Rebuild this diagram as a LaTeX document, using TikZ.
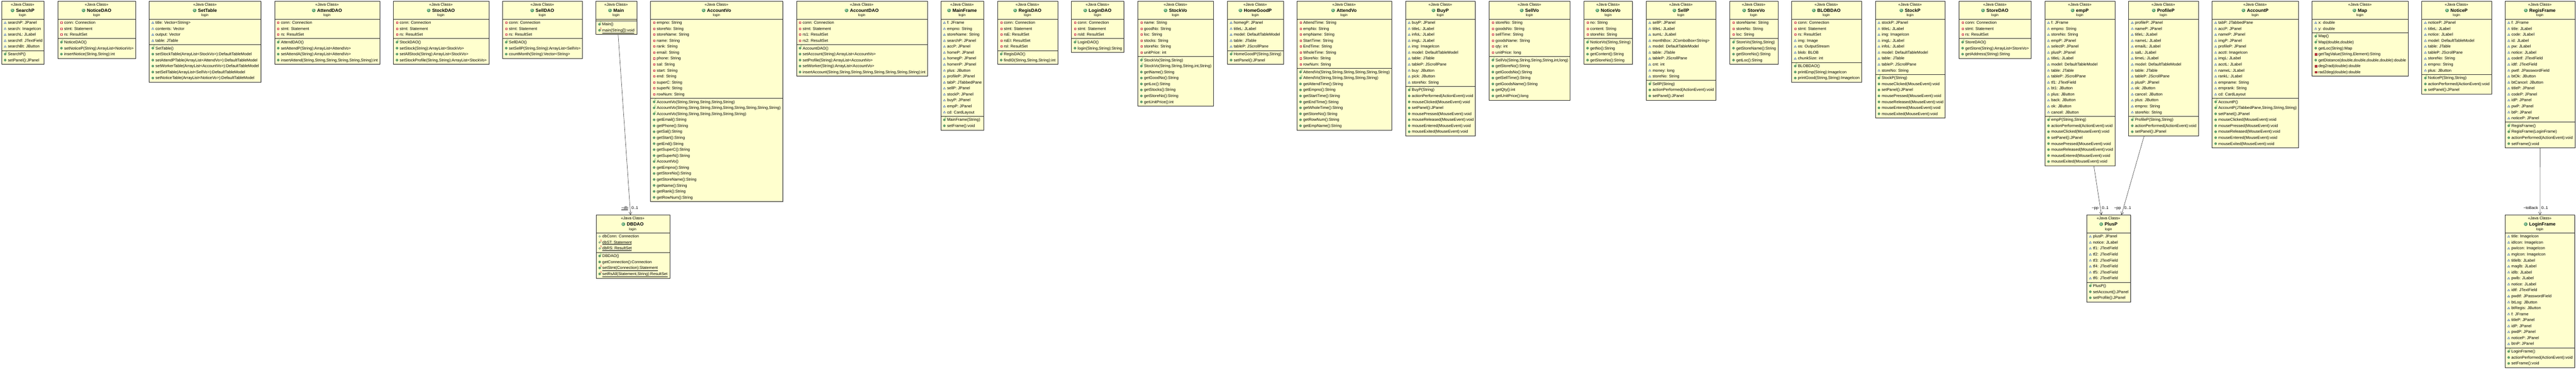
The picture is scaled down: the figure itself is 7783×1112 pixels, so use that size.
\documentclass[tikz,border=0pt]{standalone}
\usepackage{fontspec}
\setmainfont{Liberation Sans}
\usetikzlibrary{calc,arrows.meta}

\definecolor{classfill}{RGB}{255,255,206}
\definecolor{classline}{RGB}{40,40,40}
\definecolor{pkgblue}{RGB}{58,104,170}
\definecolor{privred}{RGB}{206,52,64}
\definecolor{pubgreen}{RGB}{98,168,118}
\definecolor{pubrim}{RGB}{60,120,80}
\definecolor{ctorgreen}{RGB}{30,150,50}
\definecolor{headgreen}{RGB}{76,156,100}

\newcount\rowno
% one class box: name, x, top, width, attributes, operations
\newcommand\umlclass[6]{%
  \def\itm##1##2{\global\advance\rowno by 1 }%
  \global\rowno=0 #5\xdef\nattr{\the\rowno}%
  \global\rowno=0 #6\xdef\nmeth{\the\rowno}%
  \pgfmathsetmacro\ysa{#3+54}%
  \pgfmathsetmacro\ysb{\ysa+18*\nattr+5}%
  \pgfmathsetmacro\ysc{\ysb+18*\nmeth+5}%
  \pgfmathsetmacro\hh{\ysc-#3}%
  \fill[boxshadow] (#2+2,-#3-2) rectangle (#2+#4+2,-\ysc-2);
  \node[classbox,minimum width=#4pt,minimum height=\hh pt,anchor=north west] (#1) at (#2,-#3) {};
  \draw[sepline] (#2,-\ysa) -- (#2+#4,-\ysa);
  \draw[sepline] (#2,-\ysb) -- (#2+#4,-\ysb);
  \node[stereo] (#1-s) at (#2+#4/2,-#3-14.4) {<<Java Class>>};
  \node[cname] (#1-n) at (#2+#4/2+7.75,-#3-32.4) {#1};
  \fill[headgreen] ([shift={(-10.25,4.6)}]#1-n.base west) circle (5.5);
  \node[cicon] (#1-i) at ([shift={(-10.25,4.6)}]#1-n.base west) {C};
  \node[pkg] (#1-p) at (#2+#4/2,-#3-46.3) {login};
  \def\itm##1##2{%
    \global\advance\rowno by 1
    \pgfmathsetmacro\yy{\ytop+15+18*(\the\rowno-1)}%
    \node[item] (#1-\sect\the\rowno) at (#2+19.5,-\yy) {##2};
    \pic at (#2+11.5,-\yy+4.2) {ic##1};}%
  \let\ytop\ysa\def\sect{a}\global\rowno=0 #5%
  \let\ytop\ysb\def\sect{m}\global\rowno=0 #6%
}
% association with role and multiplicity
\newcommand\assoc[5]{%
  \coordinate (#1-#3-a) at ([xshift=#2pt]#1.south);
  \coordinate (#1-#3-b) at ([xshift=#4pt]#3.north);
  \draw[assoc] (#1-#3-a) -- (#1-#3-b);
  \node[role,anchor=base east] (#1-#3-r) at ($(#1-#3-b)!17pt!(#1-#3-a)+(-6,0)$) {#5};
  \node[role,anchor=base west] (#1-#3-m) at ($(#1-#3-b)!17pt!(#1-#3-a)+(4,0)$) {0..1};
}
\newcommand\connrs{\itm{p}{conn: Connection}\itm{p}{stmt: Statement}\itm{p}{rs: ResultSet}}
\newcommand\mouserest{\itm{m}{mousePressed(MouseEvent):void}\itm{m}{mouseReleased(MouseEvent):void}%
  \itm{m}{mouseEntered(MouseEvent):void}\itm{m}{mouseExited(MouseEvent):void}}

\begin{document}
\begin{tikzpicture}[x=1pt,y=1pt,
  classbox/.style={draw=classline,fill=classfill,line width=1.1pt,inner sep=0pt},
  boxshadow/.style={fill=black!15},
  sepline/.style={draw=classline,line width=1.1pt},
  stereo/.style={inner sep=0pt,anchor=base,font=\fontsize{11.8}{13}\selectfont},
  cname/.style={inner sep=0pt,anchor=base,font=\bfseries\fontsize{13.9}{16}\selectfont},
  cicon/.style={inner sep=0pt,text=white,font=\bfseries\fontsize{8.5}{9}\selectfont},
  pkg/.style={inner sep=0pt,anchor=base,font=\fontsize{10.2}{12}\selectfont},
  item/.style={inner sep=0pt,anchor=base west,font=\fontsize{12}{14}\selectfont},
  role/.style={inner sep=0pt,font=\fontsize{12}{14}\selectfont},
  sup/.style={inner sep=0pt,font=\fontsize{8}{8}\selectfont},
  assoc/.style={draw=black!80,line width=0.9pt,-{Straight Barb[length=8pt,width=9pt]}},
  pics/ict/.style={code={\draw[draw=pkgblue,fill=pkgblue!15,line width=0.8pt] (-3.3,-2.7) -- (3.3,-2.7) -- (0,3) -- cycle;}},
  pics/icp/.style={code={\draw[draw=privred,fill=privred!10,line width=0.8pt] (-2.4,-2.4) rectangle (2.4,2.4);}},
  pics/ico/.style={code={\draw[draw=pubrim,fill=white,line width=0.9pt] (0,0) circle (2.6);}},
  pics/icm/.style={code={\draw[draw=pubrim,fill=pubgreen,line width=0.5pt] (0,0) circle (3.4);}},
  pics/icx/.style={code={\draw[draw=privred!70!black,fill=privred,line width=0.5pt] (-3,-3) rectangle (3,3);}},
  pics/icc/.style={code={\draw[draw=pubrim,fill=pubgreen,line width=0.5pt] (0,0) circle (3.4);
      \node[sup,text=ctorgreen] at (4,5) {C};}},
  pics/icsm/.style={code={\draw[draw=pubrim,fill=pubgreen,line width=0.5pt] (0,0) circle (3.4);
      \node[sup,text=privred] at (4,5) {S};}},
  pics/icso/.style={code={\draw[draw=pubrim,fill=white,line width=0.9pt] (0,0) circle (2.6);
      \node[sup,text=privred] at (4,5) {S};}}]
\useasboundingbox (0,0) rectangle (7783,-1112);

\umlclass{SearchP}{4.1}{3.5}{128.5}{\itm{t}{searchP: JPanel}\itm{t}{search: ImageIcon}\itm{t}{searchL: JLabel}
  \itm{t}{searchtf: JTextField}\itm{t}{searchBt: JButton}}{\itm{c}{SearchP()}\itm{m}{setPanel():JPanel}}
\umlclass{NoticeDAO}{174.1}{3.5}{235.5}{\connrs}{\itm{c}{NoticeDAO()}
  \itm{m}{setNoticeP(String):ArrayList<NoticeVo>}\itm{m}{insertNotice(String,String):int}}
\umlclass{SetTable}{450.2}{3.5}{338}{\itm{t}{title: Vector<String>}\itm{t}{contents: Vector}\itm{t}{output: Vector}
  \itm{t}{table: JTable}}{\itm{c}{SetTable()}\itm{m}{setStockTable(ArrayList<StockVo>):DefaultTableModel}
  \itm{m}{setAttendPTable(ArrayList<AttendVo>):DefaultTableModel}\itm{m}{setWorkerTable(ArrayList<AccountVo>):DefaultTableModel}
  \itm{m}{setSellTable(ArrayList<SellVo>):DefaultTableModel}\itm{m}{setNoticeTable(ArrayList<NoticeVo>):DefaultTableModel}}
\umlclass{AttendDAO}{829.1}{3.5}{318}{\connrs}{\itm{c}{AttendDAO()}\itm{m}{setAttendP(String):ArrayList<AttendVo>}
  \itm{m}{setAttendA(String):ArrayList<AttendVo>}\itm{m}{insertAttend(String,String,String,String,String,String):int}}
\umlclass{StockDAO}{1188}{3.5}{288.5}{\connrs}{\itm{c}{StockDAO()}\itm{m}{setStock(String):ArrayList<StockVo>}
  \itm{m}{setAllStock(String):ArrayList<StockVo>}\itm{m}{setStockProfile(String,String):ArrayList<StockVo>}}
\umlclass{SellDAO}{1518}{3.5}{241}{\connrs}{\itm{c}{SellDAO()}\itm{m}{setSellP(String,String):ArrayList<SellVo>}
  \itm{m}{countMonth(String):Vector<String>}}
\umlclass{Main}{1799.8}{3.5}{123.5}{}{\itm{c}{Main()}\itm{sm}{\underline{main(String[]):void}}}
\umlclass{AccountVo}{1964.8}{3.5}{400}{\itm{p}{empno: String}\itm{p}{storeNo: String}\itm{p}{storeName: String}
  \itm{p}{name: String}\itm{p}{rank: String}\itm{p}{email: String}\itm{p}{phone: String}\itm{p}{sal: String}
  \itm{p}{start: String}\itm{p}{end: String}\itm{p}{superC: String}\itm{p}{superN: String}\itm{p}{rowNum: String}}
  {\itm{c}{AccountVo(String,String,String,String,String)}
  \itm{c}{AccountVo(String,String,String,String,String,String,String,String,String)}
  \itm{c}{AccountVo(String,String,String,String,String,String)}\itm{m}{getEmail():String}\itm{m}{getPhone():String}
  \itm{m}{getSal():String}\itm{m}{getStart():String}\itm{m}{getEnd():String}\itm{m}{getSuperC():String}
  \itm{m}{getSuperN():String}\itm{c}{AccountVo()}\itm{m}{getEmpno():String}\itm{m}{getStoreNo():String}
  \itm{m}{getStoreName():String}\itm{m}{getName():String}\itm{m}{getRank():String}\itm{m}{getRowNum():String}}
\umlclass{AccountDAO}{2405.7}{3.5}{396}{\itm{p}{conn: Connection}\itm{p}{stmt: Statement}\itm{p}{rs1: ResultSet}
  \itm{p}{rs2: ResultSet}}{\itm{c}{AccountDAO()}\itm{m}{setAccount(String):ArrayList<AccountVo>}
  \itm{m}{setProfile(String):ArrayList<AccountVo>}\itm{m}{setWorker(String):ArrayList<AccountVo>}
  \itm{m}{insertAccount(String,String,String,String,String,String,String,String):int}}
\umlclass{MainFrame}{2841.8}{3.5}{130}{\itm{t}{f: JFrame}\itm{t}{empno: String}\itm{t}{storeName: String}
  \itm{t}{searchP: JPanel}\itm{t}{accP: JPanel}\itm{t}{homeP: JPanel}\itm{t}{homegP: JPanel}\itm{t}{homenP: JPanel}
  \itm{t}{plus: JButton}\itm{t}{profileP: JPanel}\itm{t}{tabP: JTabbedPane}\itm{t}{sellP: JPanel}\itm{t}{stockP: JPanel}
  \itm{t}{buyP: JPanel}\itm{t}{empP: JPanel}\itm{t}{cd: CardLayout}}{\itm{c}{MainFrame(String)}\itm{m}{setFrame():void}}
\umlclass{RegisDAO}{3013.4}{3.5}{181.6}{\itm{p}{conn: Connection}\itm{p}{stmt: Statement}\itm{p}{rsE: ResultSet}
  \itm{p}{rsEI: ResultSet}\itm{p}{rsI: ResultSet}}{\itm{c}{RegisDAO()}\itm{m}{findID(String,String,String):int}}
\umlclass{LoginDAO}{3236.4}{3.5}{159}{\itm{p}{conn: Connection}\itm{p}{stmt: Statement}\itm{p}{rsId: ResultSet}}
  {\itm{c}{LoginDAO()}\itm{m}{login(String,String):String}}
\umlclass{StockVo}{3437}{3.5}{229}{\itm{p}{name: String}\itm{p}{goodNo: String}\itm{p}{loc: String}
  \itm{p}{stocks: String}\itm{p}{storeNo: String}\itm{p}{unitPrice: int}}{\itm{c}{StockVo(String,String)}
  \itm{c}{StockVo(String,String,String,int,String)}\itm{m}{getName():String}\itm{m}{getGoodNo():String}
  \itm{m}{getLoc():String}\itm{m}{getStocks():String}\itm{m}{getStoreNo():String}\itm{m}{getUnitPrice():int}}
\umlclass{HomeGoodP}{3708}{3.5}{169}{\itm{t}{homegP: JPanel}\itm{t}{titleL: JLabel}\itm{t}{model: DefaultTableModel}
  \itm{t}{table: JTable}\itm{t}{tableP: JScrollPane}}{\itm{c}{HomeGoodP(String,String)}\itm{m}{setPanel():JPanel}}
\umlclass{AttendVo}{3917.8}{3.5}{286}{\itm{p}{AttendTime: String}\itm{p}{empNo: String}\itm{p}{empName: String}
  \itm{p}{StartTime: String}\itm{p}{EndTime: String}\itm{p}{WholeTime: String}\itm{p}{StoreNo: String}\itm{p}{rowNum: String}}
  {\itm{c}{AttendVo(String,String,String,String,String,String)}\itm{c}{AttendVo(String,String,String,String,String)}
  \itm{m}{getAttendTime():String}\itm{m}{getEmpno():String}\itm{m}{getStartTime():String}\itm{m}{getEndTime():String}
  \itm{m}{getWholeTime():String}\itm{m}{getStoreNo():String}\itm{m}{getRowNum():String}\itm{m}{getEmpName():String}}
\umlclass{BuyP}{4246.1}{3.5}{211}{\itm{t}{buyP: JPanel}\itm{t}{titleL: JLabel}\itm{t}{infoL: JLabel}\itm{t}{imgL: JLabel}
  \itm{t}{img: ImageIcon}\itm{t}{model: DefaultTableModel}\itm{t}{table: JTable}\itm{t}{tableP: JScrollPane}
  \itm{t}{buy: JButton}\itm{t}{pick: JButton}\itm{t}{storeNo: String}}{\itm{c}{BuyP(String)}
  \itm{m}{actionPerformed(ActionEvent):void}\itm{m}{mouseClicked(MouseEvent):void}\itm{m}{setPanel():JPanel}\mouserest}
\umlclass{SellVo}{4499}{3.5}{244}{\itm{p}{storeNo: String}\itm{p}{goodsNo: String}\itm{p}{sellTime: String}
  \itm{p}{goodsName: String}\itm{p}{qty: int}\itm{p}{unitPrice: long}}{\itm{c}{SellVo(String,String,String,String,int,long)}
  \itm{m}{getStoreNo():String}\itm{m}{getGoodsNo():String}\itm{m}{getSellTime():String}\itm{m}{getGoodsName():String}
  \itm{m}{getQty():int}\itm{m}{getUnitPrice():long}}
\umlclass{NoticeVo}{4785}{3.5}{147}{\itm{p}{no: String}\itm{p}{content: String}\itm{p}{storeNo: String}}
  {\itm{c}{NoticeVo(String,String)}\itm{m}{getNo():String}\itm{m}{getContent():String}\itm{m}{getStoreNo():String}}
\umlclass{SellP}{4973.1}{3.5}{211}{\itm{t}{sellP: JPanel}\itm{t}{titleL: JLabel}\itm{t}{sumL: JLabel}
  \itm{t}{monthBox: JComboBox<String>}\itm{t}{model: DefaultTableModel}\itm{t}{table: JTable}\itm{t}{tableP: JScrollPane}
  \itm{t}{cnt: int}\itm{t}{money: long}\itm{t}{storeNo: String}}{\itm{c}{SellP(String)}
  \itm{m}{actionPerformed(ActionEvent):void}\itm{m}{setPanel():JPanel}}
\umlclass{StoreVo}{5226}{3.5}{145}{\itm{p}{storeName: String}\itm{p}{storeNo: String}\itm{p}{loc: String}}
  {\itm{c}{StoreVo(String,String)}\itm{m}{getStoreName():String}\itm{m}{getStoreNo():String}\itm{m}{getLoc():String}}
\umlclass{BLOBDAO}{5412.5}{3.5}{211}{\connrs\itm{t}{img: Image}\itm{t}{os: OutputStream}\itm{t}{blob: BLOB}
  \itm{t}{chunkSize: int}}{\itm{c}{BLOBDAO()}\itm{m}{printEmp(String):ImageIcon}\itm{m}{printGood(String,String):ImageIcon}}
\umlclass{StockP}{5665.4}{3.5}{211}{\itm{t}{stockP: JPanel}\itm{t}{titleL: JLabel}\itm{t}{img: ImageIcon}
  \itm{t}{imgL: JLabel}\itm{t}{infoL: JLabel}\itm{t}{model: DefaultTableModel}\itm{t}{table: JTable}
  \itm{t}{tableP: JScrollPane}\itm{t}{storeNo: String}}{\itm{c}{StockP(String)}\itm{m}{mouseClicked(MouseEvent):void}
  \itm{m}{setPanel():JPanel}\mouserest}
\umlclass{StoreDAO}{5918.2}{3.5}{218}{\connrs}{\itm{c}{StoreDAO()}\itm{m}{getStore(String):ArrayList<StoreVo>}
  \itm{m}{getAddress(String):String}}
\umlclass{empP}{6177.7}{3.5}{212}{\itm{t}{f: JFrame}\itm{t}{empno: String}\itm{t}{storeNo: String}\itm{t}{empP: JPanel}
  \itm{t}{selectP: JPanel}\itm{t}{plusP: JPanel}\itm{t}{titleL: JLabel}\itm{t}{model: DefaultTableModel}\itm{t}{table: JTable}
  \itm{t}{tableP: JScrollPane}\itm{t}{tf1: JTextField}\itm{t}{bt1: JButton}\itm{t}{plus: JButton}\itm{t}{back: JButton}
  \itm{t}{ok: JButton}\itm{t}{cancel: JButton}}{\itm{c}{empP(String,String)}\itm{m}{actionPerformed(ActionEvent):void}
  \itm{m}{mouseClicked(MouseEvent):void}\itm{m}{setPanel():JPanel}\mouserest}
\umlclass{ProfileP}{6430.8}{3.5}{210.5}{\itm{t}{profileP: JPanel}\itm{t}{nameP: JPanel}\itm{t}{titleL: JLabel}
  \itm{t}{nameL: JLabel}\itm{t}{emailL: JLabel}\itm{t}{salL: JLabel}\itm{t}{timeL: JLabel}\itm{t}{model: DefaultTableModel}
  \itm{t}{table: JTable}\itm{t}{tableP: JScrollPane}\itm{t}{plusP: JPanel}\itm{t}{ok: JButton}\itm{t}{cancel: JButton}
  \itm{t}{plus: JButton}\itm{t}{empno: String}\itm{t}{storeNo: String}}{\itm{c}{ProfileP(String,String)}
  \itm{m}{actionPerformed(ActionEvent):void}\itm{m}{setPanel():JPanel}}
\umlclass{AccountP}{6682.7}{3.5}{261.5}{\itm{t}{tabP: JTabbedPane}\itm{t}{accP: JPanel}\itm{t}{nameP: JPanel}
  \itm{t}{imgP: JPanel}\itm{t}{profileP: JPanel}\itm{t}{acctI: ImageIcon}\itm{t}{imgL: JLabel}\itm{t}{acctL: JLabel}
  \itm{t}{nameL: JLabel}\itm{t}{rankL: JLabel}\itm{t}{empname: String}\itm{t}{emprank: String}\itm{t}{cd: CardLayout}}
  {\itm{c}{AccountP()}\itm{c}{AccountP(JTabbedPane,String,String,String)}\itm{m}{setPanel():JPanel}
  \itm{m}{mouseClicked(MouseEvent):void}\mouserest}
\umlclass{Map}{6985.1}{3.5}{290}{\itm{t}{x: double}\itm{t}{y: double}}{\itm{c}{Map()}\itm{c}{Map(double,double)}
  \itm{m}{getLoc(String):Map}\itm{x}{getTagValue(String,Element):String}
  \itm{m}{getDistance(double,double,double,double):double}\itm{x}{deg2rad(double):double}\itm{x}{rad2deg(double):double}}
\umlclass{NoticeP}{7316.4}{3.5}{211}{\itm{t}{noticeP: JPanel}\itm{t}{titleL: JLabel}\itm{t}{notice: JLabel}
  \itm{t}{model: DefaultTableModel}\itm{t}{table: JTable}\itm{t}{tableP: JScrollPane}\itm{t}{storeNo: String}
  \itm{t}{empno: String}\itm{t}{plus: JButton}}{\itm{c}{NoticeP(String,String)}\itm{m}{actionPerformed(ActionEvent):void}
  \itm{m}{setPanel():JPanel}}
\umlclass{RegisFrame}{7568.3}{3.5}{211}{\itm{t}{f: JFrame}\itm{t}{title: JLabel}\itm{t}{code: JLabel}\itm{t}{id: JLabel}
  \itm{t}{pw: JLabel}\itm{t}{notice: JLabel}\itm{t}{codetf: JTextField}\itm{t}{idtf: JTextField}\itm{t}{pwtf: JPasswordField}
  \itm{t}{btOk: JButton}\itm{t}{btCancel: JButton}\itm{t}{titleP: JPanel}\itm{t}{codeP: JPanel}\itm{t}{idP: JPanel}
  \itm{t}{pwP: JPanel}\itm{t}{btP: JPanel}\itm{t}{noticeP: JPanel}}{\itm{c}{RegisFrame()}\itm{c}{RegisFrame(LoginFrame)}
  \itm{m}{actionPerformed(ActionEvent):void}\itm{m}{setFrame():void}}

\umlclass{DBDAO}{1800.3}{648.3}{222.5}{\itm{o}{dbConn: Connection}\itm{so}{\underline{dbST: Statement}}
  \itm{so}{\underline{dbRS: ResultSet}}}{\itm{c}{DBDAO()}\itm{m}{getConnection():Connection}
  \itm{sm}{\underline{setStmt(Connection):Statement}}\itm{sm}{\underline{setRsAll(Statement,String):ResultSet}}}
\umlclass{PlusP}{6304}{648.3}{133}{\itm{t}{plusP: JPanel}\itm{t}{notice: JLabel}\itm{t}{tf1: JTextField}
  \itm{t}{tf2: JTextField}\itm{t}{tf3: JTextField}\itm{t}{tf4: JTextField}\itm{t}{tf5: JTextField}\itm{t}{tf6: JTextField}}
  {\itm{c}{PlusP()}\itm{m}{setAccount():JPanel}\itm{m}{setProfile():JPanel}}
\umlclass{LoginFrame}{7568}{648.3}{211}{\itm{t}{title: ImageIcon}\itm{t}{idIcon: ImageIcon}\itm{t}{pwIcon: ImageIcon}
  \itm{t}{mgIcon: ImageIcon}\itm{t}{titlelb: JLabel}\itm{t}{maglb: JLabel}\itm{t}{idlb: JLabel}\itm{t}{pwlb: JLabel}
  \itm{t}{notice: JLabel}\itm{t}{idtf: JTextField}\itm{t}{pwdtf: JPasswordField}\itm{t}{btLog: JButton}
  \itm{t}{btRegis: JButton}\itm{t}{f: JFrame}\itm{t}{titleP: JPanel}\itm{t}{idP: JPanel}\itm{t}{pwdP: JPanel}
  \itm{t}{noticeP: JPanel}\itm{t}{btnP: JPanel}}{\itm{c}{LoginFrame()}\itm{m}{actionPerformed(ActionEvent):void}
  \itm{m}{setFrame():void}}

\assoc{Main}{5.5}{DBDAO}{-7}{\underline{\textasciitilde db}}
\assoc{empP}{42}{PlusP}{-22}{\textasciitilde pp}
\assoc{ProfileP}{-58.7}{PlusP}{38.5}{\textasciitilde pp}
\assoc{RegisFrame}{0}{LoginFrame}{0}{\textasciitilde toBack}
\end{tikzpicture}
\end{document}
